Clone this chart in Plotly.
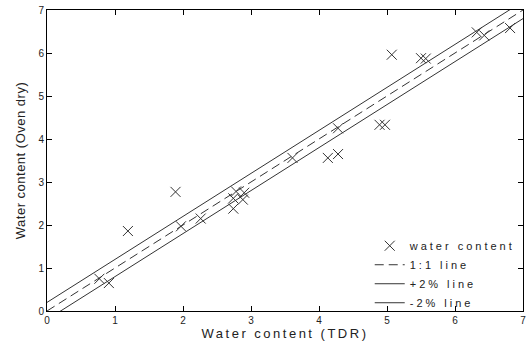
import plotly.graph_objects as go

# Measured water content: TDR probe (x) against oven-dry reference (y)
tdr = [0.77, 0.91, 1.19, 1.89, 1.97, 2.26, 2.74, 2.74, 2.78, 2.88, 2.90,
       3.61, 4.13, 4.28, 4.28, 4.89, 4.97, 5.07, 5.50, 5.57, 6.32, 6.43, 6.81]
oven_dry = [0.75, 0.65, 1.86, 2.77, 1.97, 2.15, 2.38, 2.62, 2.78, 2.59, 2.75,
            3.56, 3.56, 3.65, 4.25, 4.33, 4.33, 5.96, 5.88, 5.87, 6.48, 6.41, 6.58]

# Reference lines: 1:1 and a +/- band around it
line_x = [0.0, 7.0]
band_offset = 0.2

x_ticks = [0, 1, 2, 3, 4, 5, 6, 7]
y_ticks = [0, 1, 2, 3, 4, 5, 6, 7]

ink = "#222222"
font_family = "Liberation Sans, Arial, sans-serif"


def spaced(text, px):
    return f'<span style="letter-spacing:{px}px">{text}</span>'


fig = go.Figure()

fig.add_trace(go.Scatter(
    x=tdr, y=oven_dry, mode="markers", name=spaced("water content", 3),
    marker=dict(symbol="x-thin", size=10, line=dict(width=1, color="#333333")),
))
fig.add_trace(go.Scatter(
    x=line_x, y=line_x, mode="lines", name=spaced("1:1 line", 3),
    line=dict(color="#333333", width=1, dash="9px,5px"),
))
fig.add_trace(go.Scatter(
    x=line_x, y=[v + band_offset for v in line_x], mode="lines",
    name=spaced("+2% line", 3), line=dict(color="#333333", width=1),
))
fig.add_trace(go.Scatter(
    x=line_x, y=[v - band_offset for v in line_x], mode="lines",
    name=spaced("-2% line", 3), line=dict(color="#333333", width=1),
))

axis_common = dict(
    showgrid=False, zeroline=False, showline=True, linecolor="#000000",
    linewidth=1, mirror="ticks", ticks="inside", ticklen=5, tickwidth=1,
    tickcolor="#000000", tickfont=dict(family=font_family, size=10, color=ink),
)

fig.update_xaxes(
    range=[0, 7], tickvals=x_ticks, ticktext=[str(v) for v in x_ticks],
    title=dict(text=spaced("Water content (TDR)", 2.5),
               font=dict(family=font_family, size=13, color=ink), standoff=3),
    **axis_common,
)
fig.update_yaxes(
    range=[0, 7], tickvals=y_ticks, ticktext=[str(v) for v in y_ticks],
    title=dict(text=spaced("Water content (Oven dry)", 0.5),
               font=dict(family=font_family, size=13, color=ink), standoff=9),
    **axis_common,
)

fig.update_layout(
    width=530, height=344,
    margin=dict(l=47, r=4, t=7, b=33),
    paper_bgcolor="white", plot_bgcolor="white",
    showlegend=True,
    legend=dict(
        x=0.678, xanchor="left", y=0.265, yanchor="top",
        bgcolor="rgba(255,255,255,0)", borderwidth=0,
        font=dict(family=font_family, size=11, color=ink),
        itemwidth=30, tracegroupgap=0,
    ),
)

fig.write_html("out.html")
